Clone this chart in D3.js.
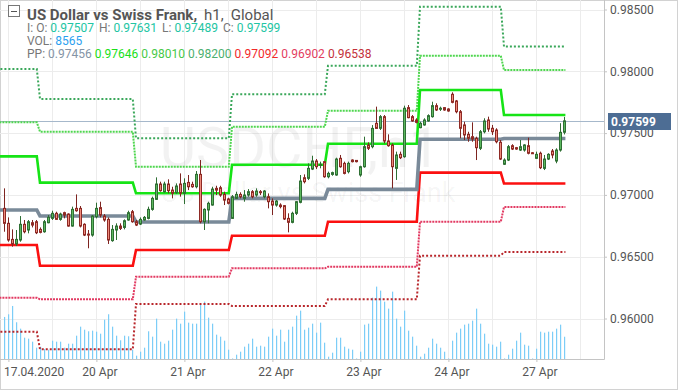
<!DOCTYPE html>
<html><head><meta charset="utf-8">
<script src="https://cdn.jsdelivr.net/npm/d3@7"></script>
<style>
body{margin:0;background:#fff;}
svg{display:block;font-family:Roboto,"Noto Sans",sans-serif;}
</style>
</head><body>
<svg id="c" width="678" height="391"></svg>
<script>
// ---------- DATA ----------
const opens = [0.96891,0.96770,0.96640,0.96603,0.96635,0.96762,0.96716,0.96775,0.96783,0.96721,
0.96702,0.96775,0.96810,0.96851,0.96802,0.96856,0.96845,0.96748,0.96891,0.96891,
0.96762,0.96683,0.96675,0.96824,0.96897,0.96829,0.96802,0.96630,0.96716,0.96748,
0.96737,0.96797,0.96864,0.96783,0.96764,0.96797,0.96810,0.96883,0.96964,0.97088,
0.97026,0.97088,0.97039,0.97018,0.97088,0.97013,0.97101,0.97085,0.97066,0.97166,
0.96783,0.96878,0.96918,0.97053,0.97058,0.97004,0.96967,0.96810,0.96972,0.97004,
0.96972,0.96999,0.97026,0.96999,0.97026,0.96985,0.96985,0.96950,0.96918,0.96918,
0.96913,0.96810,0.96778,0.96851,0.96940,0.97139,0.97134,0.97209,0.97274,0.97239,
0.97269,0.97147,0.97166,0.97161,0.97296,0.97255,0.97188,0.97282,0.97279,0.97161,
0.97228,0.97403,0.97390,0.97579,0.97539,0.97633,0.97436,0.97404,0.97215,0.97328,
0.97309,0.97706,0.97633,0.97606,0.97544,0.97566,0.97598,0.97633,0.97722,0.97693,
0.97706,0.97695,0.97814,0.97760,0.97673,0.97566,0.97490,0.97471,0.97458,0.97377,
0.97511,0.97606,0.97539,0.97525,0.97426,0.97248,0.97282,0.97398,0.97382,0.97363,
0.97363,0.97398,0.97341,0.97296,0.97337,0.97215,0.97290,0.97355,0.97274,0.97363,
0.97507];
const highs = [0.97053,0.96818,0.96721,0.96716,0.96829,0.96797,0.96797,0.96797,0.96797,0.96737,
0.96797,0.96837,0.96872,0.96864,0.96856,0.96864,0.96851,0.96905,0.97004,0.96910,
0.96770,0.96716,0.96837,0.96937,0.96945,0.96845,0.96818,0.96756,0.96770,0.96770,
0.96802,0.96872,0.96878,0.96797,0.96818,0.96829,0.96905,0.96986,0.97142,0.97107,
0.97107,0.97126,0.97066,0.97093,0.97174,0.97134,0.97161,0.97107,0.97193,0.97282,
0.96891,0.96945,0.97066,0.97074,0.97074,0.97026,0.96977,0.96999,0.97026,0.97021,
0.97039,0.97047,0.97039,0.97053,0.97039,0.97039,0.97012,0.96972,0.96958,0.96932,
0.96918,0.96851,0.96864,0.96950,0.97161,0.97166,0.97255,0.97317,0.97290,0.97269,
0.97274,0.97188,0.97188,0.97301,0.97323,0.97269,0.97269,0.97288,0.97282,0.97236,
0.97471,0.97425,0.97565,0.97714,0.97646,0.97646,0.97490,0.97417,0.97350,0.97350,
0.97722,0.97727,0.97646,0.97620,0.97592,0.97620,0.97652,0.97754,0.97741,0.97714,
0.97711,0.97701,0.97830,0.97768,0.97687,0.97592,0.97511,0.97587,0.97471,0.97525,
0.97620,0.97633,0.97566,0.97539,0.97444,0.97296,0.97404,0.97410,0.97388,0.97444,
0.97410,0.97463,0.97347,0.97350,0.97350,0.97323,0.97337,0.97371,0.97377,0.97580,
0.97631];
const lows = [0.96702,0.96621,0.96581,0.96586,0.96621,0.96689,0.96689,0.96737,0.96683,0.96689,
0.96694,0.96770,0.96797,0.96797,0.96791,0.96810,0.96743,0.96743,0.96864,0.96737,
0.96667,0.96568,0.96662,0.96810,0.96818,0.96783,0.96603,0.96621,0.96635,0.96716,
0.96721,0.96791,0.96775,0.96748,0.96756,0.96791,0.96802,0.96872,0.96959,0.97026,
0.97018,0.97013,0.96972,0.97007,0.96986,0.96926,0.97039,0.97058,0.97053,0.96770,
0.96716,0.96770,0.96913,0.96999,0.96985,0.96918,0.96923,0.96805,0.96967,0.96972,
0.96945,0.96985,0.96972,0.96985,0.96999,0.96972,0.96891,0.96837,0.96905,0.96891,
0.96797,0.96697,0.96770,0.96837,0.96932,0.97093,0.97120,0.97201,0.97209,0.97215,
0.97139,0.97134,0.97155,0.97155,0.97220,0.97166,0.97174,0.97263,0.97263,0.97147,
0.97220,0.97363,0.97377,0.97538,0.97525,0.97417,0.97390,0.97053,0.97121,0.97290,
0.97301,0.97620,0.97592,0.97579,0.97539,0.97560,0.97592,0.97625,0.97679,0.97679,
0.97681,0.97673,0.97741,0.97660,0.97458,0.97444,0.97430,0.97430,0.97282,0.97363,
0.97498,0.97511,0.97485,0.97417,0.97282,0.97242,0.97274,0.97363,0.97365,0.97355,
0.97350,0.97328,0.97331,0.97290,0.97209,0.97201,0.97282,0.97296,0.97256,0.97350,
0.97489];
const closes = [0.96770,0.96635,0.96603,0.96640,0.96762,0.96702,0.96783,0.96756,0.96694,0.96697,
0.96783,0.96818,0.96851,0.96802,0.96845,0.96837,0.96748,0.96883,0.96872,0.96748,
0.96675,0.96675,0.96829,0.96891,0.96837,0.96797,0.96635,0.96721,0.96748,0.96729,
0.96791,0.96856,0.96783,0.96756,0.96802,0.96818,0.96883,0.96972,0.97088,0.97034,
0.97088,0.97034,0.97013,0.97072,0.97013,0.97093,0.97066,0.97066,0.97166,0.96783,
0.96883,0.96932,0.97047,0.97039,0.96999,0.96958,0.96932,0.96985,0.97004,0.96985,
0.96999,0.97026,0.96985,0.97031,0.97021,0.97031,0.96945,0.96918,0.96950,0.96905,
0.96805,0.96778,0.96851,0.96945,0.97112,0.97107,0.97215,0.97274,0.97228,0.97247,
0.97147,0.97174,0.97180,0.97290,0.97228,0.97174,0.97255,0.97269,0.97269,0.97228,
0.97390,0.97377,0.97538,0.97538,0.97633,0.97436,0.97398,0.97228,0.97323,0.97301,
0.97701,0.97625,0.97598,0.97587,0.97579,0.97606,0.97641,0.97722,0.97687,0.97701,
0.97687,0.97679,0.97749,0.97673,0.97539,0.97485,0.97458,0.97452,0.97382,0.97511,
0.97598,0.97533,0.97511,0.97430,0.97290,0.97282,0.97390,0.97371,0.97371,0.97390,
0.97404,0.97337,0.97333,0.97328,0.97220,0.97290,0.97328,0.97323,0.97363,0.97506,
0.97599];
const volumes = [16170,17200,20400,14130,11670,8200,7820,6660,4350,4740,
3850,3580,7050,6660,6660,4350,5890,5890,8970,12440,
11280,10660,10900,10510,9740,15130,17210,12440,8970,7200,
8970,8740,3580,1270,2810,4350,10660,8590,15520,6660,
5890,7050,11280,15520,13590,18210,13980,13590,13590,20910,
22060,15900,13590,9360,8590,7050,3580,200,1660,2810,
4740,5890,7820,4740,5120,4740,8590,11670,8970,11280,
6660,11280,12440,16670,18600,11280,12050,13590,10130,13980,
6280,890,2430,8200,8200,4740,3970,3580,200,2810,
13210,13590,23600,27840,26300,22060,19370,25910,15520,12440,
18600,10900,8590,5120,890,2040,4350,7820,5890,4350,
2810,200,7050,10130,11670,13210,13590,14750,19370,13590,
9740,5890,5510,4740,6660,200,1660,3970,7050,10130,
5510,5120,200,3970,10510,10130,10510,10510,11670,13210,
8565];

// pivot levels per pivot period (start bar index of each period)
const pivotStarts = [-2, 9, 33, 57, 81, 104, 125];
const pivotLastBar = 140;
const levelR3 = [0.98019,0.97776,0.97458,0.97814,0.98045,0.98523,0.98200];
const levelR2 = [0.97587,0.97511,0.97228,0.97552,0.97681,0.98126,0.98010];
const levelR1 = [0.97312,0.97099,0.97013,0.97244,0.97414,0.97849,0.97646];
const levelPP = [0.96878,0.96829,0.96781,0.96972,0.97045,0.97450,0.97456];
const levelS1 = [0.96595,0.96427,0.96554,0.96670,0.96783,0.97180,0.97092];
const levelS2 = [0.96168,0.96155,0.96338,0.96406,0.96419,0.96783,0.96902];
const levelS3 = [0.95893,0.95751,0.96118,0.96101,0.96155,0.96508,0.96538];

const yTickValues = [0.960,0.965,0.970,0.975,0.980,0.985];
const xTickBars = [1,23,45,67,89,111,133];
const xTickLabels = ["17.04.2020","20 Apr","21 Apr","22 Apr","23 Apr","24 Apr","27 Apr"];
const lastPrice = 0.97599;
const lastVolume = 8565;

// ---------- DRAW ----------
const svg = d3.select("#c");
const plotR = 604, plotB = 359;
const x = d3.scaleLinear().domain([-1.1, 149.9]).range([0, plotR]);
const y = d3.scaleLinear().domain([0.96, 0.985]).range([318.5, 9.5]);
const yv = d3.scaleLinear().domain([0, 40000]).range([plotB, plotB - 104]);

svg.append("defs").append("clipPath").attr("id","plot")
  .append("rect").attr("x",0).attr("y",0).attr("width",plotR).attr("height",plotB);

// outer frame
svg.append("rect").attr("x",0.5).attr("y",0.5).attr("width",677).attr("height",389)
  .attr("fill","#fff").attr("stroke","#d2d2d2");

const g = svg.append("g").attr("clip-path","url(#plot)");

// grid
const gridBars = d3.range(1, 150, 11);
g.selectAll("line.vg").data(gridBars).join("line")
  .attr("x1",d=>Math.round(x(d))+0.5).attr("x2",d=>Math.round(x(d))+0.5)
  .attr("y1",0).attr("y2",plotB).attr("stroke","#ececec");
g.selectAll("line.hg").data(yTickValues).join("line")
  .attr("x1",0).attr("x2",plotR)
  .attr("y1",d=>Math.round(y(d))+0.5).attr("y2",d=>Math.round(y(d))+0.5).attr("stroke","#ececec");

// watermark
g.append("text").attr("x",300).attr("y",167).attr("text-anchor","middle")
  .attr("font-size",56).attr("fill","#000").attr("fill-opacity",0.05).text("USDCHF,h1");
g.append("text").attr("x",308).attr("y",202).attr("text-anchor","middle")
  .attr("font-size",27).attr("fill","#000").attr("fill-opacity",0.05).text("US Dollar vs Swiss Frank");

// volume bars
g.selectAll("rect.vol").data(volumes).join("rect")
  .attr("x",(d,i)=>Math.round(x(i))).attr("width",1.2)
  .attr("y",d=>yv(d)).attr("height",d=>plotB-yv(d))
  .attr("fill","#7ccdf7");

// price line
g.append("line").attr("x1",0).attr("x2",plotR)
  .attr("y1",Math.round(y(lastPrice))+0.5).attr("y2",Math.round(y(lastPrice))+0.5)
  .attr("stroke","#a6b8cb");

// pivot lines
function pivotPoints(levels){
  const pts=[];
  levels.forEach((v,k)=>{
    const sx = k===0 ? x(pivotStarts[0]) : x(pivotStarts[k]-0.1);
    const ex = k===levels.length-1 ? x(pivotLastBar)+1 : x(pivotStarts[k+1]-0.9);
    pts.push([sx,y(v)],[ex,y(v)]);
  });
  return pts;
}
const line = d3.line();
const pivotDefs = [
  {v:levelS3, c:"#b8262b", w:2, dash:"2,2"},
  {v:levelS2, c:"#e23a62", w:2, dash:"2,1"},
  {v:levelR3, c:"#3aa75a", w:2, dash:"2,2"},
  {v:levelR2, c:"#4fd64f", w:2, dash:"2,1"},
  {v:levelS1, c:"#fb1010", w:2.6, dash:null},
  {v:levelR1, c:"#16e416", w:2.6, dash:null},
  {v:levelPP, c:"#7a8a99", w:3.6, dash:null}
];
pivotDefs.forEach(p=>{
  g.append("path").attr("d",line(pivotPoints(p.v))).attr("fill","none")
    .attr("stroke",p.c).attr("stroke-width",p.w)
    .attr("stroke-dasharray",p.dash).attr("stroke-linejoin","miter");
});

// candles
const candles = opens.map((o,i)=>({i,o,h:highs[i],l:lows[i],c:closes[i]}));
const cg = g.selectAll("g.candle").data(candles).join("g");
cg.append("line")
  .attr("x1",d=>Math.round(x(d.i))+0.5).attr("x2",d=>Math.round(x(d.i))+0.5)
  .attr("y1",d=>y(d.h)).attr("y2",d=>y(d.l))
  .attr("stroke",d=>d.c>=d.o?"#2f6f34":"#7d2420").attr("stroke-width",1);
cg.append("rect")
  .attr("x",d=>Math.round(x(d.i))-0.5).attr("width",2)
  .attr("y",d=>y(Math.max(d.o,d.c)))
  .attr("height",d=>Math.max(1,Math.abs(y(d.o)-y(d.c))))
  .attr("fill",d=>d.c>=d.o?"#5cb85f":"#ee8b7c")
  .attr("stroke",d=>d.c>=d.o?"#2f6f34":"#8e2a25").attr("stroke-width",1);

// axes frame lines
svg.append("line").attr("x1",plotR+0.5).attr("x2",plotR+0.5).attr("y1",0).attr("y2",plotB+0.5).attr("stroke","#c4c4c4");
svg.append("line").attr("x1",0).attr("x2",plotR+0.5).attr("y1",plotB+0.5).attr("y2",plotB+0.5).attr("stroke","#c4c4c4");

// right axis
const yAxis = d3.axisRight(y).tickValues(yTickValues).tickFormat(d3.format(".5f")).tickSize(3).tickSizeOuter(0).tickPadding(3);
const ya = svg.append("g").attr("transform",`translate(${plotR},0)`).call(yAxis);
ya.select(".domain").remove();
ya.selectAll(".tick line").attr("stroke","#c4c4c4");
ya.selectAll(".tick text").attr("fill","#555").attr("font-size",12).attr("font-family","Roboto");

// bottom axis
const xAxis = d3.axisBottom(x).tickValues(xTickBars).tickFormat((d,i)=>xTickLabels[i]).tickSize(3).tickSizeOuter(0);
const xa = svg.append("g").attr("transform",`translate(0,${plotB})`).call(xAxis);
xa.select(".domain").remove();
xa.selectAll(".tick line").attr("stroke","#c4c4c4");
xa.selectAll(".tick text").attr("fill","#555").attr("font-size",12).attr("font-family","Roboto")
  .attr("dy",0).attr("y",17).attr("dx",3);
xa.selectAll(".tick text").filter((d,i)=>i===0).attr("text-anchor","start").attr("dx",-5);

// last price label
svg.append("rect").attr("x",608).attr("y",Math.round(y(lastPrice))-8).attr("width",63).attr("height",17).attr("fill","#4d6d94");
svg.append("text").attr("x",611).attr("y",Math.round(y(lastPrice))+4.5).attr("fill","#fff")
  .attr("font-size",12).attr("font-weight","bold").text(d3.format(".5f")(lastPrice));

// header
svg.append("rect").attr("x",8.5).attr("y",5.5).attr("width",11).attr("height",11).attr("fill","#fff").attr("stroke","#777");
svg.append("line").attr("x1",11).attr("x2",17).attr("y1",11.5).attr("y2",11.5).attr("stroke","#555");
const t1 = svg.append("text").attr("x",27).attr("y",20).attr("font-size",15).attr("fill","#555");
t1.append("tspan").attr("font-weight","bold").text("US Dollar vs Swiss Frank,");
t1.append("tspan").attr("dx",7).text("h1,");
t1.append("tspan").attr("dx",7).text("Global");

const gray="#777", teal="#22c5a3";
function textLine(yy, parts){
  const t = svg.append("text").attr("x",27).attr("y",yy).attr("font-size",12);
  parts.forEach(p=>t.append("tspan").attr("fill",p[1]).attr("dx",p[2]||0).text(p[0]));
}
textLine(31.5,[["I: O: ",gray],[opens[140].toFixed(5),teal],["H: ",gray,5],[highs[140].toFixed(5),teal],
  ["L: ",gray,5],[lows[140].toFixed(5),teal],["C: ",gray,5],[closes[140].toFixed(5),teal]]);
textLine(45,[["VOL: ",gray],[String(lastVolume),"#2b9ff0"]]);
const ppColors = ["#8494a6","#19e019","#47c947","#4caf6e","#f22a2a","#e3405f","#c3303a"];
const lastLevels = [levelPP,levelR1,levelR2,levelR3,levelS1,levelS2,levelS3].map(a=>a[a.length-1]);
textLine(57.5,[["PP: ",gray]].concat(lastLevels.map((v,k)=>[v.toFixed(5),ppColors[k],k?3:0])));
</script>
</body></html>
